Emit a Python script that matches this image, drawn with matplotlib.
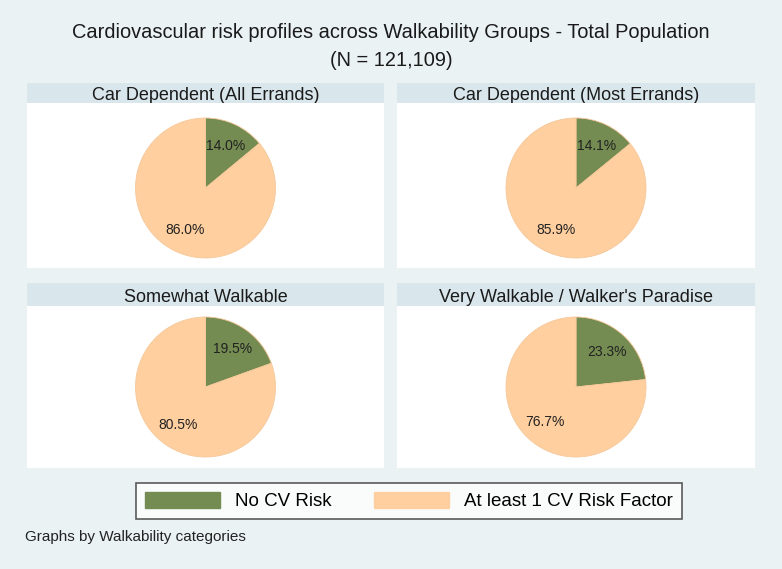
import matplotlib
matplotlib.use("Agg")
import matplotlib.pyplot as plt
from matplotlib import patches

plt.rcParams['font.family'] = ['Liberation Sans', 'DejaVu Sans']

groups = ["Car Dependent (All Errands)", "Car Dependent (Most Errands)",
          "Somewhat Walkable", "Very Walkable / Walker's Paradise"]
no_risk = [14.0, 14.1, 19.5, 23.3]
at_risk = [86.0, 85.9, 80.5, 76.7]
legend_labels = ["No CV Risk", "At least 1 CV Risk Factor"]
title = "Cardiovascular risk profiles across Walkability Groups - Total Population\n(N = 121,109)"
note = "Graphs by Walkability categories"

green = "#748B51"
peach = "#FFCF9F"
bg = "#EAF2F3"
strip = "#D9E6EB"

W, H = 782, 569
fig = plt.figure(figsize=(W / 100, H / 100), dpi=100, facecolor=bg)


def px_axes(x0, y0, x1, y1):
    return fig.add_axes([x0 / W, 1 - y1 / H, (x1 - x0) / W, (y1 - y0) / H])


cols = [(27, 384), (397, 755)]
# strip top, panel top, panel bottom, pie centre (pixels)
rows = [(83, 103, 268, 188), (283, 306, 468, 387)]

for i, name in enumerate(groups):
    x0, x1 = cols[i % 2]
    s0, p0, p1, cy = rows[i // 2]
    sax = px_axes(x0, s0, x1, p0)
    sax.set_facecolor(strip)
    sax.set_xticks([])
    sax.set_yticks([])
    for sp in sax.spines.values():
        sp.set_visible(False)
    sax.text(0.5, 0.35, name, ha="center", va="center", fontsize=13,
             color="#1a1a1a", transform=sax.transAxes)

    ax = px_axes(x0, p0, x1, p1)
    ax.pie([no_risk[i], at_risk[i]], colors=[green, peach], startangle=90,
           counterclock=False, radius=1, autopct="%.1f%%", pctdistance=0.67,
           wedgeprops=dict(linewidth=0.6, edgecolor="#f5c89a"),
           textprops=dict(fontsize=10, color="#222222"))
    ax.set_frame_on(True)
    ax.set_facecolor("white")
    for sp in ax.spines.values():
        sp.set_visible(False)
    ax.set_xticks([])
    ax.set_yticks([])
    w = (x1 - x0) / 70.0
    ax.set_xlim(-w / 2, w / 2)
    ax.set_ylim(-(p1 - cy) / 70.0, (cy - p0) / 70.0)
    ax.set_aspect("auto")

fig.text(0.5, 1 - 47 / H, title, ha="center", va="center", fontsize=14.4,
         color="#1a1a1a", linespacing=1.6)

handles = [patches.Patch(facecolor=green, edgecolor=green),
           patches.Patch(facecolor=peach, edgecolor=peach)]
leg = fig.legend(handles, legend_labels, loc="center",
                 bbox_to_anchor=(409 / W, 1 - 501 / H), ncol=2,
                 fontsize=13.5, frameon=True, fancybox=False,
                 handlelength=4.0, handleheight=0.95, handletextpad=0.8,
                 columnspacing=2.3, borderpad=0.45)
leg.get_frame().set_edgecolor("#333333")
leg.get_frame().set_linewidth(1.2)
leg.get_frame().set_facecolor("white")

fig.text(25 / W, 1 - 537 / H, note, ha="left", va="center", fontsize=11,
         color="#222222")

fig.savefig("out.png", dpi=100, facecolor=bg)
